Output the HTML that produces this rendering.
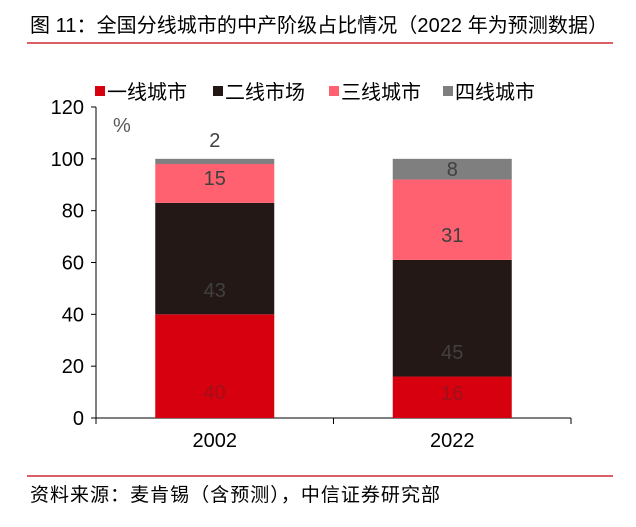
<!DOCTYPE html>
<html><head><meta charset="utf-8"><style>
body{margin:0;background:#fff;}
svg text{font-family:"Liberation Sans","Noto Sans CJK SC",sans-serif;}
</style></head><body>
<svg width="636" height="522">
<text x="30" y="32" font-size="20" fill="#000" textLength="578">图 11：全国分线城市的中产阶级占比情况（2022 年为预测数据）</text>
<line x1="27" y1="43" x2="613" y2="43" stroke="#c0000b" stroke-width="1.2"/>
<g id="legend"></g>
<g id="axes"></g>
<g id="bars"></g>
<text x="113" y="132" font-size="20" fill="#595959">%</text>
<line x1="27" y1="476" x2="613" y2="476" stroke="#c0000b" stroke-width="1.2"/>
<text x="30" y="501" font-size="19" fill="#000" textLength="410">资料来源：麦肯锡（含预测），中信证券研究部</text>
</svg>
<script>
const categories=["2002","2022"];
const seriesNames=["一线城市","二线市场","三线城市","四线城市"];
const tier1=[40,16];
const tier2=[43,45];
const tier3=[15,31];
const tier4=[2,8];
const yTicks=[0,20,40,60,80,100,120];
const colors=["#d7000f","#231815","#ff6170","#7f7f7f"];
const labelColors=["#a0101a","#404040","#404040","#404040"];
const labelFrac=[[0.25,0.22,0.64,0.5],[0.6,0.21,0.31,0.5]];
const NS="http://www.w3.org/2000/svg";
const x0=96,x1=571,yb=418,yt=107,ymax=120;
const y=v=>yb-(v/ymax)*(yb-yt);
const band=(x1-x0)/categories.length;
const bw=119;
const cx=i=>x0+band*(i+0.5);
function mk(t,a,p){const e=document.createElementNS(NS,t);for(const k in a)e.setAttribute(k,a[k]);p.appendChild(e);return e;}
const axes=document.getElementById('axes'),bars=document.getElementById('bars'),leg=document.getElementById('legend');
let l=mk('line',{x1:x0,y1:yt,x2:x0,y2:yb,stroke:'#000'},axes);


l=mk('line',{x1:x0,y1:yb,x2:x1,y2:yb,stroke:'#000'},axes);


yTicks.forEach(t=>{
 mk('line',{x1:x0-5,y1:y(t),x2:x0,y2:y(t),stroke:'#000'},axes);
 const e=mk('text',{x:x0-12,y:y(t)+7,'font-size':20,'text-anchor':'end',fill:'#000'},axes);e.textContent=t;
 
 
});
for(let i=0;i<=categories.length;i++)mk('line',{x1:x0+band*i,y1:yb,x2:x0+band*i,y2:yb+6,stroke:'#000'},axes);
categories.forEach((c,i)=>{const e=mk('text',{x:cx(i),y:yb+29,'font-size':20,'text-anchor':'middle'},axes);e.textContent=c;
 
 });
const series=[tier1,tier2,tier3,tier4];
categories.forEach((c,i)=>{
 let acc=0;
 series.forEach((s,k)=>{
  const v=s[i];const top=y(acc+v),bot=y(acc);
  const r=mk('rect',{x:cx(i)-bw/2,y:top,width:bw,height:bot-top,fill:colors[k]},bars);
  
  
  let ly=y(acc+v*labelFrac[i][k])+7;
  if(k===3&&v<5)ly=top-12;
  const t=mk('text',{x:cx(i),y:ly,'font-size':20,'text-anchor':'middle',fill:labelColors[k]},bars);t.textContent=v;
  
  
  acc+=v;
 });
});
const lx=[95,213,329,443];
seriesNames.forEach((n,k)=>{
 const r=mk('rect',{x:lx[k],y:86,width:10,height:10,fill:colors[k]},leg);
 
 
 const t=mk('text',{x:lx[k]+12,y:99,'font-size':20,fill:'#000'},leg);t.textContent=n;
 
 
});
</script>
</body></html>
